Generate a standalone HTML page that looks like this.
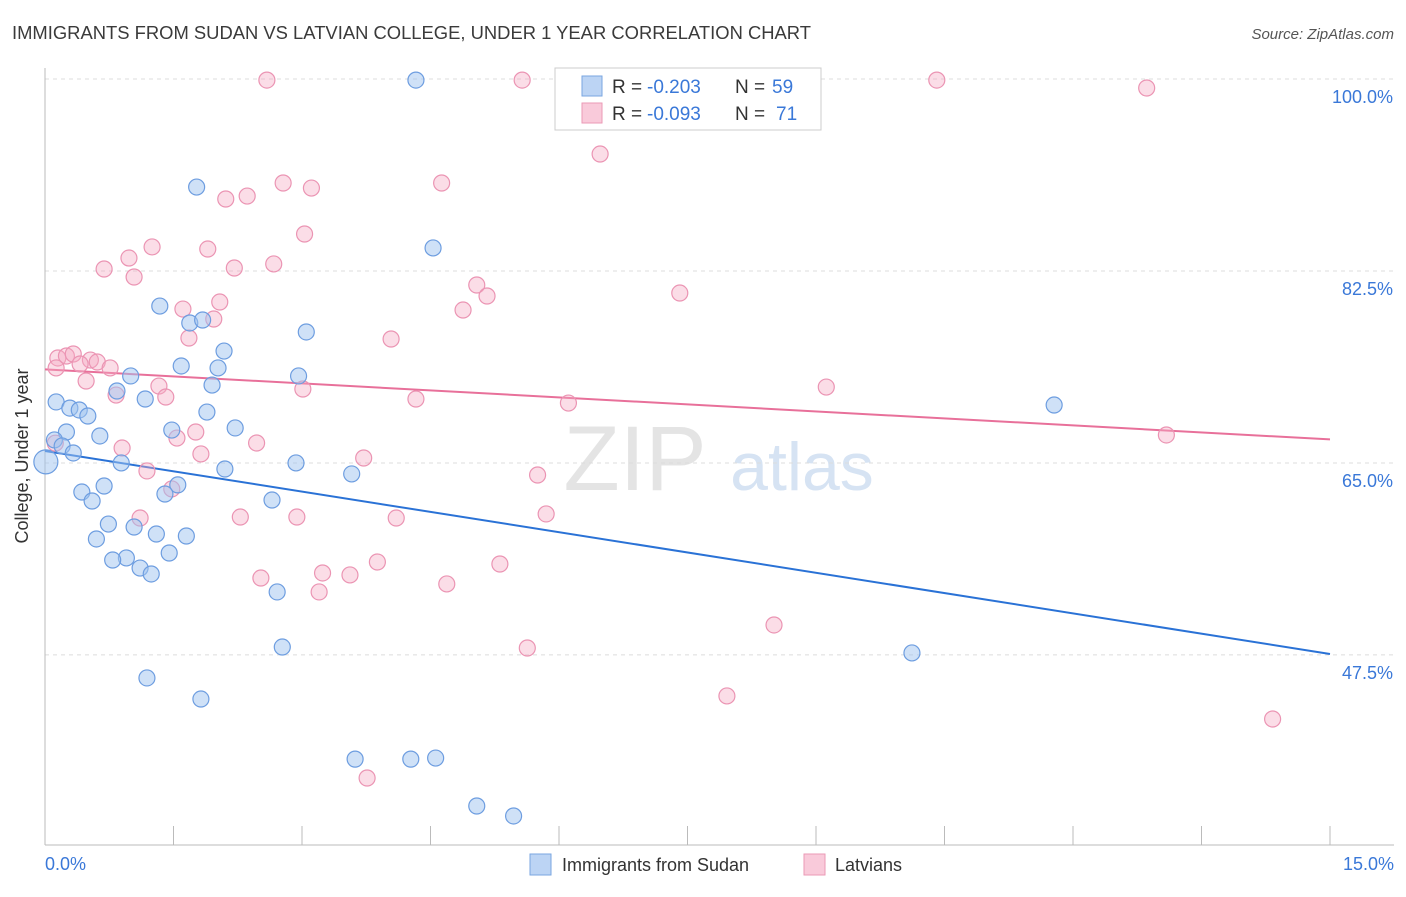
<!DOCTYPE html>
<html><head><meta charset="utf-8"><style>
body{margin:0;background:#fff;font-family:"Liberation Sans",sans-serif;}
svg text{font-family:"Liberation Sans",sans-serif;}
</style></head><body>
<svg id="chart" width="1406" height="892" viewBox="0 0 1406 892" xmlns="http://www.w3.org/2000/svg">
<text x="12" y="39" font-size="18" fill="#3a3a3a" textLength="799" lengthAdjust="spacingAndGlyphs">IMMIGRANTS FROM SUDAN VS LATVIAN COLLEGE, UNDER 1 YEAR CORRELATION CHART</text>
<text x="1394" y="39" font-size="15" fill="#555" text-anchor="end" font-style="italic">Source: ZipAtlas.com</text>
<g>
<text x="635" y="490" font-size="92" fill="#e4e4e4" text-anchor="middle" font-family="Liberation Serif,serif">ZIP</text>
<text x="802" y="490" font-size="68" fill="#d6e3f3" text-anchor="middle">atlas</text>
</g>
<g id="grid"></g>
<g id="axes"></g>
<g id="lines"></g>
<g id="pts"></g>
<g>
<rect x="555" y="68" width="266" height="62" fill="#fff" stroke="#ccc"/>
<rect x="582" y="76" width="20" height="20" fill="#bcd4f4" stroke="#7aa6e0"/>
<rect x="582" y="103" width="20" height="20" fill="#f9cada" stroke="#eb9ab6"/>
<text x="612" y="93" font-size="19" fill="#333">R =</text>
<text x="647" y="93" font-size="19" fill="#3a78d8">-0.203</text>
<text x="735" y="93" font-size="19" fill="#333">N =</text>
<text x="772" y="93" font-size="19" fill="#3a78d8">59</text>
<text x="612" y="120" font-size="19" fill="#333">R =</text>
<text x="647" y="120" font-size="19" fill="#3a78d8">-0.093</text>
<text x="735" y="120" font-size="19" fill="#333">N =</text>
<text x="776" y="120" font-size="19" fill="#3a78d8">71</text>
</g>
<g>
<rect x="530" y="854" width="21" height="21" fill="#bcd4f4" stroke="#7aa6e0"/>
<text x="562" y="871" font-size="18" fill="#333">Immigrants from Sudan</text>
<rect x="804" y="854" width="21" height="21" fill="#f9cada" stroke="#eb9ab6"/>
<text x="835" y="871" font-size="18" fill="#333">Latvians</text>
</g>
</svg>
<script>
const sudanX=[4.33,1.77,4.53,1.34,1.69,1.84,3.05,2.09,1.59,2.02,1.00,1.95,0.84,1.17,0.13,0.29,0.40,0.50,1.89,2.96,2.22,1.48,0.25,0.64,0.11,0.20,0.33,0.89,2.10,2.93,3.58,0.01,0.69,1.55,1.40,0.43,0.55,2.65,0.74,1.04,1.30,1.65,0.60,1.45,0.95,0.79,1.11,1.24,2.71,2.77,1.19,1.82,3.62,4.27,4.56,5.04,5.47,11.78,10.12];
const sudanY=[99.9,90.15,84.6,79.3,77.76,78.03,76.94,75.2,73.84,73.66,72.93,72.1,71.56,70.83,70.56,70.0,69.83,69.28,69.64,72.93,68.19,68.0,67.82,67.46,67.1,66.55,65.91,65.0,64.45,65.0,64.0,65.1,62.9,63.0,62.17,62.35,61.53,61.62,59.43,59.16,58.52,58.34,58.07,56.79,56.34,56.15,55.42,54.88,53.24,48.22,45.4,43.48,38.0,38.0,38.1,33.73,32.82,70.28,47.68];
const latX=[2.59,5.57,10.41,12.86,6.48,2.78,4.63,3.11,2.11,2.36,3.03,1.25,1.90,0.98,0.69,2.21,2.67,1.04,5.04,5.16,7.41,1.61,2.04,4.88,1.97,1.68,4.04,0.15,0.25,0.33,0.53,0.61,0.13,0.41,0.76,0.48,1.33,3.01,0.83,1.41,4.33,6.11,9.12,1.76,1.54,13.09,0.90,2.47,1.82,3.72,1.19,5.75,1.48,1.11,2.28,2.94,4.10,5.85,3.88,3.24,3.56,5.31,2.52,3.20,4.69,8.51,5.63,7.96,14.33,3.76,0.12];
const latY=[99.9,99.9,99.9,99.18,93.16,90.52,90.52,90.06,89.06,89.33,85.87,84.69,84.5,83.68,82.68,82.77,83.14,81.95,81.22,80.22,80.49,79.03,79.67,78.94,78.12,76.39,76.3,74.57,74.75,74.93,74.38,74.2,73.66,74.02,73.66,72.47,72.01,71.74,71.19,71.01,70.83,70.46,71.92,67.82,67.27,67.55,66.36,66.82,65.82,65.45,64.27,63.9,62.63,59.98,60.07,60.07,59.98,60.35,55.97,54.97,54.79,55.79,54.51,53.24,53.97,50.23,48.13,43.76,41.66,36.28,66.8];
const yTicks=[100,82.5,65,47.5];
const yTickLabels=["100.0%","82.5%","65.0%","47.5%"];
const xTicks=[0,1.5,3,4.5,6,7.5,9,10.5,12,13.5,15];

const NS="http://www.w3.org/2000/svg";
const sx=v=>45+v/15*1285;
const sy=v=>79+(100-v)*10.97;
function mk(parent,tag,attrs){const e=document.createElementNS(NS,tag);for(const k in attrs)e.setAttribute(k,attrs[k]);document.getElementById(parent).appendChild(e);return e;}

yTicks.forEach((t,i)=>{
  const l=mk('grid','line',{x1:45,x2:1394,y1:sy(t),y2:sy(t),stroke:'#dcdcdc','stroke-dasharray':'4,4'});
  
  
  const tx=mk('grid','text',{x:1393,y:sy(t)+24,'font-size':18,fill:'#3a78d8','text-anchor':'end'});
  tx.textContent=yTickLabels[i];
  
  
});
const ax=mk('axes','line',{x1:45,x2:45,y1:68,y2:845,stroke:'#bbb'});


const bx=mk('axes','line',{x1:45,x2:1394,y1:845,y2:845,stroke:'#bbb'});


xTicks.forEach(t=>{
  const l=mk('axes','line',{x1:sx(t),x2:sx(t),y1:826,y2:845,stroke:'#bbb'});
  
  
});
const xl0=mk('axes','text',{x:45,y:870,'font-size':18,fill:'#3a78d8'});xl0.textContent=xTicks[0].toFixed(1)+'%';


const xl1=mk('axes','text',{x:1394,y:870,'font-size':18,fill:'#3a78d8','text-anchor':'end'});xl1.textContent=xTicks[xTicks.length-1].toFixed(1)+'%';


const yt=mk('axes','text',{x:0,y:0,'font-size':18,fill:'#333','text-anchor':'middle',transform:'translate(34,456) rotate(-90)'});yt.textContent='College, Under 1 year';
yt.setAttribute('transform','translate(28,456) rotate(-90)');



function reg(X,Y){const n=X.length;let mx=0,my=0;X.forEach((v,i)=>{mx+=v;my+=Y[i];});mx/=n;my/=n;let a=0,b=0;X.forEach((v,i)=>{a+=(v-mx)*(Y[i]-my);b+=(v-mx)*(v-mx);});const s=a/b;return[my-s*mx,s];}
[[sudanX,sudanY,'#2a72d6','trend-line-sudan'],[latX,latY,'#e8709a','trend-line-latvians']].forEach(([X,Y,c,n])=>{
  const [b0,b1]=reg(X,Y);
  const l=mk('lines','line',{x1:sx(0),y1:sy(b0),x2:sx(15),y2:sy(b0+b1*15),stroke:c,'stroke-width':2});
  
  
});
latX.forEach((v,i)=>{
  const c=mk('pts','circle',{cx:sx(v),cy:sy(latY[i]),r:8,fill:'rgba(245,170,196,0.4)',stroke:'#eb94b3','stroke-width':1.2});
  
  
});
sudanX.forEach((v,i)=>{
  const c=mk('pts','circle',{cx:sx(v),cy:sy(sudanY[i]),r:i===31?12:8,fill:'rgba(160,195,240,0.5)',stroke:'#6d9de0','stroke-width':1.2});
  
  
});
</script>
</body></html>
